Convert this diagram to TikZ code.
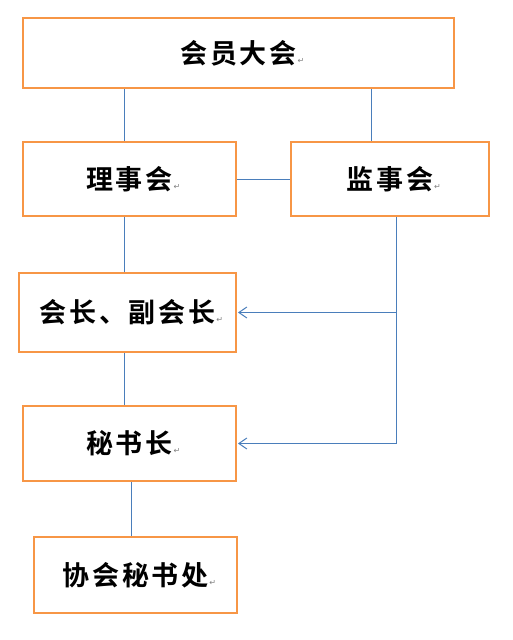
\documentclass[tikz,border=0pt]{standalone}
\usepackage{fontspec}
\usepackage{tikz}
\usetikzlibrary{positioning, arrows.meta}
\newfontfamily\cjkfont[LetterSpace=10]{Noto Sans CJK SC Bold}
\newfontfamily\markfont{DejaVu Sans}
\definecolor{BoxOrange}{HTML}{F79646}
\definecolor{LinkBlue}{HTML}{4A7EBB}
\definecolor{MarkGray}{HTML}{808080}
\newcommand{\pmark}{\rlap{\hspace{1pt}\markfont\fontsize{8}{8}\selectfont\color{MarkGray}↵}}

\begin{document}
\begin{tikzpicture}[x=1pt, y=-1pt,
    orgbox/.style={draw=BoxOrange, line width=2pt, rectangle, inner sep=0pt, font=\cjkfont\fontsize{27}{30}\selectfont},
    link/.style={draw=LinkBlue, line width=1pt},
    arrowlink/.style={link, -{Straight Barb[length=8pt, width=11pt]}}]
    \useasboundingbox (0,0) rectangle (512,640);

    \node[orgbox, minimum width=431pt, minimum height=70pt] (hydh) at (238.5,53) {会员大会\pmark};
    \node[orgbox, minimum width=213pt, minimum height=74pt] (lsh) at (129.5,179) {理事会\pmark};
    \node[orgbox, minimum width=198pt, minimum height=74pt] (jsh) at (390,179) {监事会\pmark};
    \node[orgbox, minimum width=217pt, minimum height=79pt] (hz) at (127.5,312.5) {会长、副会长\pmark};
    \node[orgbox, minimum width=213pt, minimum height=75pt] (msz) at (129.5,443.5) {秘书长\pmark};
    \node[orgbox, minimum width=203pt, minimum height=76pt] (xsc) at (135.5,575) {协会秘书处\pmark};

    \draw[link] ([xshift=-5.5pt]lsh.north |- hydh.south) -- ([xshift=-5.5pt]lsh.north);
    \draw[link] ([xshift=-19pt]jsh.north |- hydh.south) -- ([xshift=-19pt]jsh.north);
    \draw[link] (lsh.east) -- (jsh.west);
    \draw[link] ([xshift=-5.5pt]lsh.south) -- ([xshift=-5.5pt]lsh.south |- hz.north);
    \draw[link] ([xshift=-3.5pt]hz.south) -- ([xshift=-3.5pt]hz.south |- msz.north);
    \draw[link] ([xshift=1.5pt]msz.south) -- ([xshift=1.5pt]msz.south |- xsc.north);

    \draw[arrowlink] ([xshift=6pt]jsh.south) |- ([xshift=1pt]msz.east);
    \draw[arrowlink] ([xshift=6pt]jsh.south |- hz.east) -- ([xshift=1pt]hz.east);
\end{tikzpicture}
\end{document}
